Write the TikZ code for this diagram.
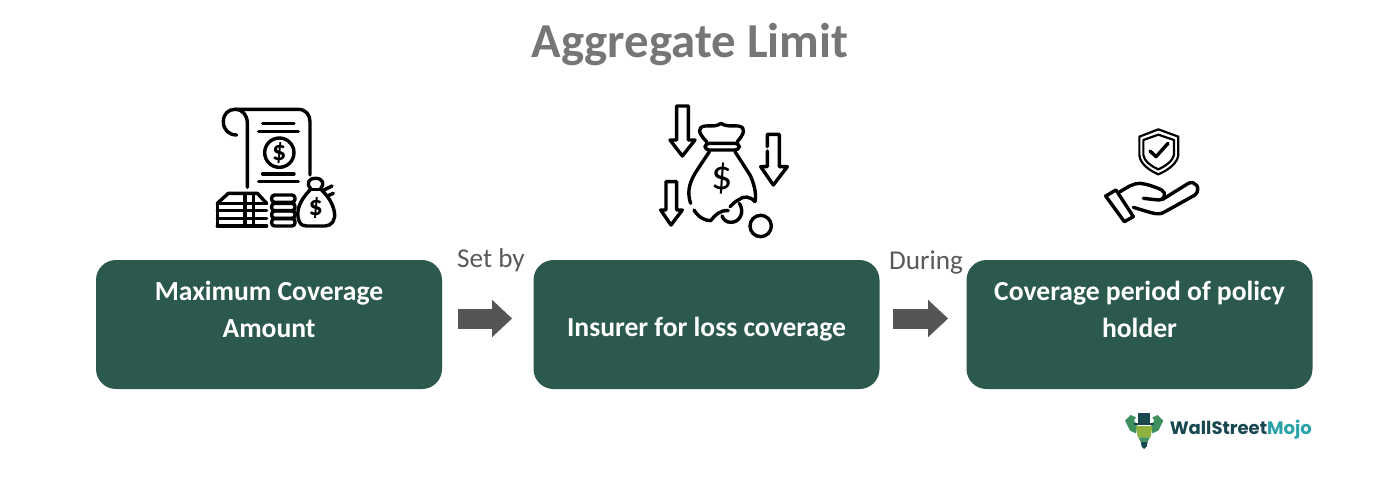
\documentclass[tikz,border=0pt]{standalone}
\usepackage{fontspec}
\setmainfont{Carlito}
\newfontfamily\logofont{Poppins}
\usetikzlibrary{arrows.meta}
\definecolor{boxgreen}{HTML}{2B594D}
\definecolor{titlegrey}{HTML}{767676}
\definecolor{arrowgrey}{HTML}{555555}
\definecolor{labelgrey}{HTML}{595959}
\definecolor{logodark}{HTML}{17474F}
\definecolor{logocyan}{HTML}{2AA3A8}
\definecolor{logolime}{HTML}{8FB23E}
\definecolor{logogreen}{HTML}{3F8F5F}
\tikzset{
  coverbox/.style={draw=none,fill=boxgreen,rounded corners=10pt,minimum width=173pt,minimum height=64.5pt,
    align=center,text=white,font=\fontsize{13.8}{18.6}\selectfont\bfseries},
  steplabel/.style={text=labelgrey,font=\fontsize{13.6}{15}\selectfont},
  flowarrow/.style={draw=arrowgrey,line width=10pt,-{Triangle[length=10pt,width=18pt]}},
  iconline/.style={draw=black,line width=1.7pt,line cap=round,line join=round},
  iconthin/.style={draw=black,line width=1.1pt,line cap=round,line join=round},
  dollar/.style={inner sep=0pt,font=\fontsize{14}{14}\selectfont\bfseries},
}
\begin{document}
\begin{tikzpicture}[x=0.5pt,y=-0.5pt]
\useasboundingbox (0,0) rectangle (1390,488);
\node[text=titlegrey,font=\fontsize{24.4}{26}\selectfont\bfseries] (title) at (690,45) {Aggregate Limit};

\node[coverbox,text height=13pt] (maxbox) at (269,324.5) {Maximum Coverage\\Amount};
\node[coverbox,text height=14.5pt,text depth=3pt] (insurerbox) at (706.5,324.5) {Insurer for loss coverage};
\node[coverbox,text height=13pt] (periodbox) at (1139.5,324.5) {Coverage period of policy\\holder};

\node[steplabel] (setby) at (491,260) {Set by};
\node[steplabel] (during) at (926,262) {During};

\draw[flowarrow,shorten <=8pt,shorten >=10.5pt] ([yshift=3pt]maxbox.east) -- ([yshift=3pt]insurerbox.west);
\draw[flowarrow,shorten <=6.5pt,shorten >=9pt] ([yshift=3pt]insurerbox.east) -- ([yshift=3pt]periodbox.west);

% scroll, notes and money bag
\begin{scope}[shift={(200,90)},x=0.5pt/3,y=-0.5pt/3]
\draw[iconline] (110,135) .. controls (85,135) and (70,118) .. (70,95) .. controls (70,72) and (85,58) .. (105,58)
  -- (295,58) .. controls (318,58) and (330,75) .. (330,95) -- (330,255);
\draw[iconline] (105,58) .. controls (128,58) and (142,75) .. (142,100) -- (142,292);
\foreach \y/\a/\b in {100/188/282,124/176/295,252/188/282,274/176/295}
  \draw[iconline] (\a,\y) -- (\b,\y);
\draw[iconline] (238,188) circle (44);
\node[dollar] (coinone) at (238,188) {\$};
\draw[iconline] (52,340) -- (85,310) -- (172,310) -- (200,340);
\foreach \y in {340,362,385,408}
  \draw[iconline] (52,\y) -- (200,\y);
\draw[iconline] (52,340) -- (52,408);
\draw[iconline] (135,312) -- (135,408);
\draw[iconline] (160,312) -- (160,408);
\foreach \y in {315,340,363,386}
  \draw[iconline,rounded corners=1.5pt] (215,\y) rectangle (285,\y+22);
\draw[iconline] (330,298) -- (364,298);
\draw[iconline] (332,296) .. controls (318,280) and (325,265) .. (347,265) .. controls (368,265) and (375,282) .. (362,296);
\draw[iconline] (372,300) -- (396,288) (382,318) -- (400,310);
\draw[iconline] (330,300) .. controls (300,330) and (285,365) .. (298,395) .. controls (303,405) and (310,408) .. (320,408)
  -- (375,408) .. controls (395,408) and (408,390) .. (403,365) .. controls (398,340) and (385,320) .. (365,300);
\node[dollar] (bagone) at (347,355) {\$};
\end{scope}

% falling money bag
\begin{scope}[shift={(640,90)},x=0.5pt/3,y=-0.5pt/3]
\draw[iconline] (110,48) -- (145,48) -- (145,150) -- (165,150) -- (127,198) -- (90,150) -- (110,150) -- cycle;
\draw[iconline] (382,170) -- (382,133) -- (418,133) -- (418,230) -- (442,230) -- (400,285) -- (362,230) -- (382,230) -- (382,183);
\draw[iconline] (78,275) -- (110,275) -- (110,360) -- (127,360) -- (93,405) -- (62,360) -- (78,360) -- cycle;
\draw[iconline] (200,155) .. controls (175,130) and (170,112) .. (195,108) .. controls (215,106) and (225,112) .. (243,100)
  .. controls (262,112) and (275,106) .. (295,108) .. controls (320,112) and (312,132) .. (292,155);
\draw[iconline,rounded corners=2pt] (195,160) rectangle (298,180);
\draw[iconline] (208,185) -- (165,250) .. controls (145,285) and (142,310) .. (152,340);
\draw[iconline] (285,185) -- (330,255) .. controls (342,280) and (350,310) .. (345,335);
\draw[iconline] (345,335) .. controls (330,318) and (310,318) .. (298,328) .. controls (285,335) and (280,340) .. (270,350);
\draw[iconline] (162,360) .. controls (175,382) and (195,392) .. (212,392) .. controls (225,375) and (240,360) .. (265,362);
\draw[iconline] (298,340) .. controls (315,365) and (300,398) .. (272,397) .. controls (258,397) and (250,388) .. (246,378);
\draw[iconline] (362,408) circle (32);
\node[font=\fontsize{21}{21}\selectfont,inner sep=0pt] (bagtwo) at (245,267) {\$};
\end{scope}

% shield over hand
\begin{scope}[shift={(1090,120)},x=0.5pt/3,y=-0.5pt/3]
\draw[iconthin] (205,28) -- (265,50) -- (265,105) .. controls (262,130) and (235,150) .. (205,163)
  .. controls (175,150) and (150,130) .. (148,105) -- (148,50) -- cycle;
\draw[iconthin] (205,44) -- (252,60) -- (252,105) .. controls (248,122) and (228,138) .. (205,148)
  .. controls (182,138) and (162,122) .. (160,105) -- (160,60) -- cycle;
\draw[iconline] (180,93) -- (198,110) -- (234,70);
\draw[iconline] (47,228) -- (78,210) -- (130,290) -- (103,305) -- cycle;
\draw[iconline] (90,215) .. controls (115,200) and (130,190) .. (150,190) .. controls (170,192) and (195,200) .. (215,210)
  .. controls (230,218) and (225,240) .. (205,240) -- (160,235);
\draw[iconline] (218,238) -- (295,190) .. controls (315,180) and (335,205) .. (315,225) -- (225,275)
  .. controls (205,288) and (190,280) .. (130,262);
\end{scope}

% logo
\begin{scope}[shift={(1110,400)},x=0.5pt/3,y=-0.5pt/3]
\fill[logogreen] (45,62) -- (62,45) -- (78,52) -- (72,62) -- (82,75) -- (78,100) -- (60,92) -- cycle;
\fill[logogreen] (160,62) -- (143,45) -- (127,52) -- (133,62) -- (123,75) -- (127,100) -- (145,92) -- cycle;
\fill[logolime] (78,78) -- (127,78) -- (122,112) -- (83,112) -- cycle;
\fill[logogreen] (85,112) -- (120,112) -- (113,125) -- (92,125) -- cycle;
\fill[logodark] (92,125) -- (113,125) -- (110,140) -- (102,147) -- (95,140) -- cycle;
\fill[logodark] (84,38) rectangle (120,68);
\fill[logodark] (72,68) rectangle (133,76);
\node[anchor=west,inner sep=0pt,font=\logofont\fontsize{9}{12}\selectfont\bfseries] (logotext) at (178,88)
  {\textcolor{logodark}{WallStreet}\textcolor{logocyan}{Mojo}};
\end{scope}
\end{tikzpicture}
\end{document}
